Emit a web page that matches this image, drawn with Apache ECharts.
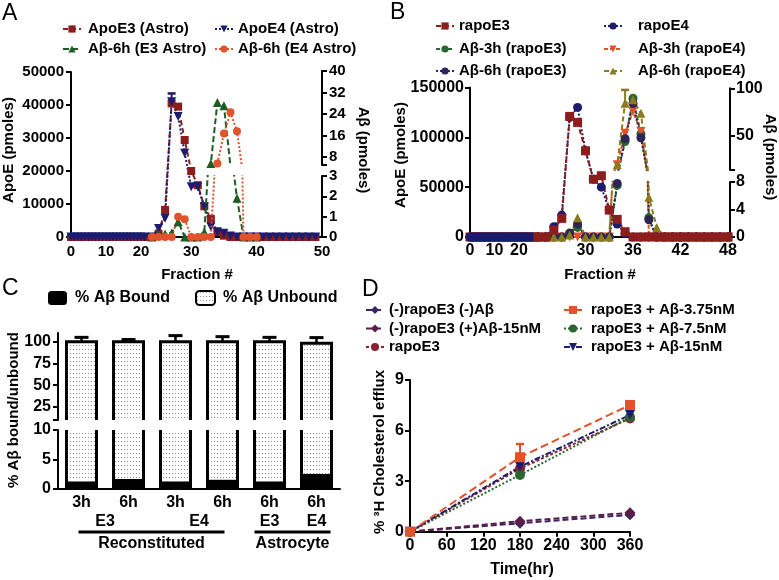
<!DOCTYPE html>
<html>
<head>
<meta charset="utf-8">
<script src="https://cdn.jsdelivr.net/npm/echarts@6.0.0/dist/echarts.min.js"></script>
<style>
html,body{margin:0;padding:0;background:#ffffff;}
#chart{width:779px;height:580px;}
</style>
</head>
<body>
<div id="chart"></div>
<script>
// ================= DATA =================
// ---- Panel A (astrocyte ApoE / Aβ, fraction #) ----
const fracA_left = [0,1,2,3,4,5,6,7,8,9,10,11,12,13,14,15,16,17,18,19,20,21];
const apoE3_astro_left = [0,0,0,0,0,0,0,0,0,0,0,0,0,0,0,0,0,0,0,0,0,0];
const apoE4_astro_left = [0,0,0,0,0,0,0,0,0,0,0,0,0,0,0,0,0,0,0,0,0,0];
const fracA = [24,25,26,27,28,29,30,31,32,33,34,35,36,37,38,39,40,41,42,43,44,45,46,47,48,49];
const apoE3_astro = [0,1000,8200,40500,39500,29400,20000,15700,9300,5500,1500,400,0,0,0,0,0,0,0,0,0,0,0,0,0,0];
const apoE4_astro = [0,2600,5700,41000,36500,25400,15200,15200,9200,3100,1600,1100,300,0,0,0,0,0,0,0,0,0,0,0,0,0];
const errA_frac = [27];
const errA_apoE4 = [2500];
const fracA_ab = [24,25,26,27,28,29,30,31,32,33,34,35,36,37,38,39,40];
const ab6h_E3astro = [0,0.15,0.15,0.2,0.75,0,0,0,0.25,5.6,28.3,27.1,4.5,1.9,0,0,0];
const ab6h_E4astro = [0,0,0,0,1.0,0.87,0,0,0,0,5.6,16.7,24.6,17.6,0,0,0];
const ticksA_xLeft = [0,10,20];
const ticksA_xRight = [30,40,50];
const ticksA_abUpper = [8,16,24,32,40];

// ---- Panel B (reconstituted apoE / Aβ) ----
const fracB_left = [0,1,2,3,4,5,6,7,8,9,10,11,12,13,14,15,16,17,18,19,20,21,22,23,24,25,26];
const rapoE3_left = [0,0,0,0,0,0,0,0,0,0,0,0,0,0,0,0,0,0,0,0,0,0,0,0,0,0,0];
const rapoE4_left = [0,0,0,0,0,0,0,0,0,0,0,0,0,0,0,0,0,0,0,0,0,0,0,0,0,0,0];
const fracB = [24,25,26,27,28,29,30,31,32,33,34,35,36,37,38,39,40,41,42,43,44,45,46,47,48];
const rapoE3 = [0,0,7000,18700,121000,115000,86500,58000,61500,27000,17700,5300,0,0,0,0,0,0,0,0,0,0,0,0,0];
const rapoE4 = [0,0,10300,22000,120000,130000,86500,58000,50000,27000,13000,3700,0,0,0,0,0,0,0,0,0,0,0,0,0];
const ab3h_rapoE3 = [0,0,0,0,0.6,1.4,0,0,0,0,7.5,44,89.5,52,2.8,0,0,0,0,0,0,0,0,0,0];
const ab3h_rapoE4 = [0,0,0,0,0,0,0,0,0,0,19.6,52.8,75.5,54.5,0,0,0,0,0,0,0,0,0,0,0];
const ab6h_rapoE3 = [0,0,0,0,0.5,1.9,0,0,0,0,7.8,47,84,48,2.5,0,0,0,0,0,0,0,0,0,0];
const ab6h_rapoE4 = [0,0,0,0,0.3,2.8,0,0,0,0,19.6,84.3,88,73.8,5.8,1.4,0,0,0,0,0,0,0,0,0];
const errB_frac = [35];
const errB_ab6hE4 = [14];
const ticksB_xLeft = [0,10,20];
const ticksB_xRight = [30,36,42,48];
const ticksB_abUpper = [50,100];

// ---- Panel C (% Aβ bound / unbound) ----
const categoriesC = ['3h','6h','3h','6h','6h','6h'];
const boundC = [1.3,1.7,1.3,1.6,1.3,2.6];
const unboundC = [98.7,98.3,98.7,98.4,98.7,95.6];
const errC = [5,2.5,7,5.8,5,6.5];
const apoLabelsC = ['E3','E4','E3','E4'];
const apoPosC = [0.5,2.5,4,5];
const groupLabelsC = ['Reconstituted','Astrocyte'];
const groupSpanC = [[0,3],[4,5]];
const ticksC_upper = [25,50,75,100];

// ---- Panel D (cholesterol efflux) ----
const timeD = [0,180,360];
const d_noApo_noAb = [0,0.5,1.0];
const d_noApo_Ab15 = [0,0.62,1.12];
const d_rapoE3 = [0,3.75,6.72];
const d_rapoE3_Ab375 = [0,4.42,7.52];
const d_rapoE3_Ab375_err = [0,0.78,0];
const d_rapoE3_Ab75 = [0,3.37,6.8];
const d_rapoE3_Ab15 = [0,3.86,6.93];

// ================= STYLE =================
const FONT = '"Liberation Sans", Arial, Helvetica, sans-serif';
const C = {maroon:'#8b1d1d', navy:'#1c1c6e', green:'#1f5d24', orange:'#e2532b', olive:'#8a7b1f',
  purple:'#2d2457', dgreen:'#2b6630', dpurple:'#3a2466', plum:'#5a1d4a', dred:'#8c1f2e'};
const TRI_DOWN = 'path://M0,0L10,0L5,9Z';
const AXL = {show:true, onZero:false, lineStyle:{color:'#000', width:2}};
const TICK = {show:true, inside:false, length:5, lineStyle:{color:'#000', width:2}};
function lbl(fs, margin, extra){ return Object.assign({show:true, fontFamily:FONT, fontWeight:'bold', fontSize:fs, color:'#000', margin:margin}, extra||{}); }

const pat = document.createElement('canvas');
pat.width = 3; pat.height = 4;
(function(){ const g = pat.getContext('2d'); g.fillStyle='#fff'; g.fillRect(0,0,3,4); g.fillStyle='#8f8f8f'; g.fillRect(1,1,1,1); })();
const DOTS = {image: pat, repeat: 'repeat'};

const grid = [
  {left:71, top:72, width:77, height:165},      // 0 A left segment
  {left:152, top:72, width:170, height:165},    // 1 A right segment (ApoE)
  {left:152, top:71, width:170, height:94},     // 2 A Aβ upper
  {left:152, top:176, width:170, height:61},    // 3 A Aβ lower
  {left:470, top:87.5, width:66, height:149.5}, // 4 B left segment
  {left:538, top:87.5, width:192, height:149.5},// 5 B right segment (ApoE)
  {left:538, top:88.3, width:192, height:81.7}, // 6 B Aβ upper
  {left:538, top:182, width:192, height:55},    // 7 B Aβ lower
  {left:58, top:333, width:282, height:87},     // 8 C upper
  {left:58, top:430, width:282, height:59},     // 9 C lower
  {left:410, top:380, width:220, height:151.7}  // 10 D
];

function hidX(gi, min, max){ return {gridIndex:gi, type:'value', min:min, max:max, show:false}; }
function hidY(gi, min, max){ return {gridIndex:gi, type:'value', min:min, max:max, show:false}; }
const noSplit = {show:false};

const xAxis = [
  {gridIndex:0, type:'value', min:0, max:22, axisLine:AXL, axisTick:{show:false}, splitLine:noSplit, axisLabel:lbl(15,7,{customValues:ticksA_xLeft})},
  {gridIndex:1, type:'value', min:24, max:50, axisLine:AXL, axisTick:{show:false}, splitLine:noSplit, axisLabel:lbl(15,7,{customValues:ticksA_xRight})},
  hidX(2,24,50), hidX(3,24,50),
  {gridIndex:4, type:'value', min:0, max:27, axisLine:AXL, axisTick:{show:false}, splitLine:noSplit, axisLabel:lbl(16,6,{customValues:ticksB_xLeft})},
  {gridIndex:5, type:'value', min:24, max:48.25, axisLine:AXL, axisTick:{show:false}, splitLine:noSplit, axisLabel:lbl(16,6,{customValues:ticksB_xRight})},
  hidX(6,24,48.25), hidX(7,24,48.25),
  {gridIndex:8, type:'category', data:categoriesC, show:false},
  {gridIndex:9, type:'category', data:categoriesC, axisLine:AXL, axisTick:{show:false}, axisLabel:lbl(16,6,{interval:0})},
  {gridIndex:10, type:'value', min:0, max:360, interval:60, axisLine:AXL, axisTick:TICK, splitLine:noSplit, axisLabel:lbl(16,6)}
];

const yAxis = [
  {gridIndex:0, type:'value', min:0, max:50000, interval:10000, axisLine:AXL, axisTick:TICK, splitLine:noSplit, axisLabel:lbl(15,7,{formatter:v=>String(v)})},
  hidY(1,0,50000),
  {gridIndex:2, type:'value', position:'right', min:5, max:40, axisLine:AXL, splitLine:noSplit,
    axisTick:Object.assign({}, TICK, {customValues:[5].concat(ticksA_abUpper)}), axisLabel:lbl(15,7,{customValues:ticksA_abUpper})},
  {gridIndex:3, type:'value', position:'right', min:0, max:3, interval:1, axisLine:AXL, axisTick:TICK, splitLine:noSplit, axisLabel:lbl(15,7)},
  {gridIndex:4, type:'value', min:0, max:150000, interval:50000, axisLine:AXL, axisTick:TICK, splitLine:noSplit, axisLabel:lbl(16,6,{formatter:v=>String(v)})},
  hidY(5,0,150000),
  {gridIndex:6, type:'value', position:'right', min:14, max:100, axisLine:AXL, splitLine:noSplit,
    axisTick:Object.assign({}, TICK, {customValues:[14].concat(ticksB_abUpper)}), axisLabel:lbl(16,6,{customValues:ticksB_abUpper})},
  {gridIndex:7, type:'value', position:'right', min:0, max:8, interval:4, axisLine:AXL, axisTick:TICK, splitLine:noSplit, axisLabel:lbl(16,6)},
  {gridIndex:8, type:'value', min:10, max:110, axisLine:AXL, splitLine:noSplit,
    axisTick:Object.assign({}, TICK, {customValues:[10].concat(ticksC_upper)}), axisLabel:lbl(16,7,{customValues:ticksC_upper})},
  {gridIndex:9, type:'value', min:0, max:10, interval:5, axisLine:AXL, axisTick:TICK, splitLine:noSplit, axisLabel:lbl(16,7)},
  {gridIndex:10, type:'value', min:0, max:9, interval:3, axisLine:AXL, axisTick:TICK, splitLine:noSplit, axisLabel:lbl(16,6)}
];

function line(name, gi, xs, ys, color, symbol, size, dash, z){
  return {type:'line', name:name, xAxisIndex:gi, yAxisIndex:gi, data:xs.map((x,i)=>[x, ys[i]]),
    symbol:symbol, symbolSize:size, showSymbol:true, showAllSymbol:true, clip:true,
    itemStyle:{color:color}, lineStyle:{color:color, width:2, type:dash}, z:z||2, animation:false};
}
function errBars(gi, xs, ys, es, color, capHalf, lw){
  return {type:'custom', xAxisIndex:gi, yAxisIndex:gi, data:xs.map((x,i)=>[x, ys[i], es[i]]), z:4, silent:true, animation:false,
    renderItem:function(params, api){
      const x = api.value(0), y = api.value(1), e = api.value(2);
      if (!e) return {type:'group', children:[]};
      const p0 = api.coord([x,y]), p1 = api.coord([x,y+e]);
      return {type:'group', children:[
        {type:'line', shape:{x1:p0[0],y1:p0[1],x2:p1[0],y2:p1[1]}, style:{stroke:color, lineWidth:lw}},
        {type:'line', shape:{x1:p1[0]-capHalf,y1:p1[1],x2:p1[0]+capHalf,y2:p1[1]}, style:{stroke:color, lineWidth:lw+0.5}}
      ]};
    }};
}

const series = [];
// Panel A
series.push(line('ApoE3 (Astro)', 0, fracA_left, apoE3_astro_left, C.maroon, 'rect', 8, [5,3]));
series.push(line('ApoE4 (Astro)', 0, fracA_left, apoE4_astro_left, C.navy, TRI_DOWN, 9, [2,2]));
series.push(line('ApoE3 (Astro)', 1, fracA, apoE3_astro, C.maroon, 'rect', 8, [5,3]));
series.push(line('ApoE4 (Astro)', 1, fracA, apoE4_astro, C.navy, TRI_DOWN, 9, [2,2]));
series.push(errBars(1, errA_frac, errA_frac.map(f=>apoE4_astro[fracA.indexOf(f)]), errA_apoE4, C.navy, 4, 2));
[2,3].forEach(gi=>{
  series.push(line('Aβ-6h (E3 Astro)', gi, fracA_ab, ab6h_E3astro, C.green, 'triangle', 9, [6,3], 3));
  series.push(line('Aβ-6h (E4 Astro)', gi, fracA_ab, ab6h_E4astro, C.orange, 'circle', 8, [2,2], 3));
});
// Panel B
series.push(line('rapoE3', 4, fracB_left, rapoE3_left, C.maroon, 'rect', 9, [5,3]));
series.push(line('rapoE4', 4, fracB_left, rapoE4_left, C.navy, 'circle', 9, [2,2]));
series.push(line('rapoE4', 5, fracB, rapoE4, C.navy, 'circle', 9, [2,2], 3));
series.push(line('rapoE3', 5, fracB, rapoE3, C.maroon, 'rect', 9, [5,3], 3));
[6,7].forEach(gi=>{
  series.push(line('Aβ-3h (rapoE3)', gi, fracB, ab3h_rapoE3, C.dgreen, 'circle', 9, [4,2], 2));
  series.push(line('Aβ-3h (rapoE4)', gi, fracB, ab3h_rapoE4, C.orange, TRI_DOWN, 9, [4,2], 2));
  series.push(line('Aβ-6h (rapoE3)', gi, fracB, ab6h_rapoE3, C.purple, 'circle', 9, [2,2], 2));
  series.push(line('Aβ-6h (rapoE4)', gi, fracB, ab6h_rapoE4, C.olive, 'triangle', 9, [5,3], 2));
});
series.push(errBars(6, errB_frac, errB_frac.map(f=>ab6h_rapoE4[fracB.indexOf(f)]), errB_ab6hE4, C.olive, 4, 2));

// Panel C
const BAR_W = 30;
[8,9].forEach(gi=>{
  series.push({type:'bar', name:'% Aβ Bound', xAxisIndex:gi, yAxisIndex:gi, stack:'s'+gi, data:boundC, barWidth:BAR_W,
    itemStyle:{color:'#000'}, clip:true, z:2, animation:false});
  series.push({type:'bar', name:'% Aβ Unbound', xAxisIndex:gi, yAxisIndex:gi, stack:'s'+gi, data:unboundC, barWidth:BAR_W,
    itemStyle:{color:DOTS}, clip:true, z:2, animation:false});
  series.push({type:'custom', xAxisIndex:gi, yAxisIndex:gi, z:3, silent:true, animation:false,
    data:categoriesC.map((c,i)=>[i, boundC[i]+unboundC[i], errC[i]]),
    renderItem:function(params, api){
      const cs = params.coordSys, top = cs.y, bot = cs.y + cs.height;
      const i = api.value(0), tot = api.value(1), e = api.value(2);
      const pT = api.coord([i, tot]), pB = api.coord([i, 0]);
      const x = pT[0], hw = BAR_W/2;
      const yT = Math.max(top, pT[1]), yB = Math.min(bot, pB[1]);
      const st = {stroke:'#000', lineWidth:3, fill:null};
      const ch = [];
      if (yT < yB) {
        if (pT[1] >= top) ch.push({type:'polyline', shape:{points:[[x-hw,yB],[x-hw,yT],[x+hw,yT],[x+hw,yB]]}, style:st});
        else {
          ch.push({type:'line', shape:{x1:x-hw,y1:yB,x2:x-hw,y2:yT}, style:st});
          ch.push({type:'line', shape:{x1:x+hw,y1:yB,x2:x+hw,y2:yT}, style:st});
        }
      }
      if (e && pT[1] >= top && pT[1] <= bot) {
        const pE = api.coord([i, tot+e]);
        ch.push({type:'line', shape:{x1:x,y1:pT[1],x2:x,y2:pE[1]}, style:{stroke:'#000', lineWidth:2.5}});
        ch.push({type:'line', shape:{x1:x-7,y1:pE[1],x2:x+7,y2:pE[1]}, style:{stroke:'#000', lineWidth:3}});
      }
      return {type:'group', children:ch};
    }});
});

// Panel D
const D_RAPOE3 = 'rapoE3 (D)';
series.push(line('(-)rapoE3 (-)Aβ', 10, timeD, d_noApo_noAb, C.dpurple, 'diamond', 11, [6,3]));
series.push(line('(-)rapoE3 (+)Aβ-15nM', 10, timeD, d_noApo_Ab15, C.plum, 'diamond', 11, [6,3]));
series.push(line(D_RAPOE3, 10, timeD, d_rapoE3, C.dred, 'circle', 10, [3,2]));
series.push(line('rapoE3 + Aβ-7.5nM', 10, timeD, d_rapoE3_Ab75, C.dgreen, 'circle', 10, [2,2]));
series.push(line('rapoE3 + Aβ-15nM', 10, timeD, d_rapoE3_Ab15, C.navy, TRI_DOWN, 10, [6,2,2,2]));
series.push(line('rapoE3 + Aβ-3.75nM', 10, timeD, d_rapoE3_Ab375, C.orange, 'rect', 10, [8,4]));
series.push(errBars(10, timeD, d_rapoE3_Ab375, d_rapoE3_Ab375_err, C.orange, 4, 2));

// ================= LEGENDS =================
function leg(name, left, cy, fs, iw, ih, pad, extra){
  const item = Object.assign({name:name}, extra||{});
  return {data:[item], left:left, top:cy - fs/2 - 1, orient:'horizontal', itemWidth:iw, itemHeight:ih, padding:0,
    selectedMode:false, formatter:n => n.replace(' (D)',''),
    textStyle:{fontFamily:FONT, fontWeight:'bold', fontSize:fs, color:'#000', padding:[0,0,0,pad||0]}};
}
const legend = [
  leg('ApoE3 (Astro)', 62, 30, 15, 18, 9, 2),
  leg('ApoE4 (Astro)', 214, 30, 15, 18, 9, 0),
  leg('Aβ-6h (E3 Astro)', 62, 50, 15, 18, 9, 2),
  leg('Aβ-6h (E4 Astro)', 214, 50, 15, 18, 9, 0),
  leg('rapoE3', 435, 27, 15, 18, 9, 0),
  leg('rapoE4', 603, 27, 15, 18, 9, 11),
  leg('Aβ-3h (rapoE3)', 435, 50, 15, 18, 9, 0),
  leg('Aβ-3h (rapoE4)', 603, 50, 15, 18, 9, 11),
  leg('Aβ-6h (rapoE3)', 435, 72, 15, 18, 9, 0),
  leg('Aβ-6h (rapoE4)', 603, 72, 15, 18, 9, 11),
  leg('% Aβ Bound', 48, 299, 16, 19, 14, 3),
  leg('% Aβ Unbound', 195, 299, 16, 19, 14, 3, {itemStyle:{borderColor:'#000', borderWidth:2}}),
  leg('(-)rapoE3 (-)Aβ', 365, 311, 15, 18, 10, 0),
  leg('(-)rapoE3 (+)Aβ-15nM', 365, 329.5, 15, 18, 10, 0),
  leg(D_RAPOE3, 365, 348, 15, 18, 10, 0),
  leg('rapoE3 + Aβ-3.75nM', 563, 311, 15, 18, 10, 4),
  leg('rapoE3 + Aβ-7.5nM', 563, 329.5, 15, 18, 10, 4),
  leg('rapoE3 + Aβ-15nM', 563, 348, 15, 18, 10, 4)
];

const chart = echarts.init(document.getElementById('chart'), null, {renderer:'canvas'});
chart.setOption({
  animation:false,
  backgroundColor:'#ffffff',
  textStyle:{fontFamily:FONT},
  grid:grid, xAxis:xAxis, yAxis:yAxis, legend:legend, series:series
});

// ================= TEXT / ANNOTATIONS =================
function txt(text, x, y, fs, opts){
  opts = opts || {};
  return {type:'text', x:x, y:y, rotation:opts.rot||0, z:10, silent:true,
    style:{text:text, fill:'#000', fontFamily:FONT, fontWeight:opts.weight||'bold', fontSize:fs,
      align:opts.align||'center', verticalAlign:'middle'}};
}
const R = Math.PI/2;
const graphics = [
  txt('A', 2, 14, 23, {align:'left', weight:'normal'}),
  txt('B', 390, 13, 23, {align:'left', weight:'normal'}),
  txt('C', 2, 289, 23, {align:'left', weight:'normal'}),
  txt('D', 362, 290, 23, {align:'left', weight:'normal'}),
  txt('Fraction #', 197, 275, 15),
  txt('Fraction #', 600, 275, 15),
  txt('Time(hr)', 522, 570, 16),
  txt('ApoE (pmoles)', 9, 150, 15, {rot:R}),
  txt('Aβ (pmoles)', 363, 150, 15, {rot:-R}),
  txt('ApoE (pmoles)', 401, 155, 15, {rot:R}),
  txt('Aβ (pmoles)', 770, 157, 15, {rot:-R}),
  txt('% Aβ bound/unbound', 14, 410, 15, {rot:R}),
  txt('% ³H Cholesterol efflux', 380, 452, 15, {rot:R})
];
const cx = i => chart.convertToPixel({xAxisIndex:9}, i);
const step = cx(1) - cx(0);
apoLabelsC.forEach((t, k)=>{ graphics.push(txt(t, cx(0) + apoPosC[k]*step, 522, 16)); });
const groupPad = [[3,2],[15,14]];
groupLabelsC.forEach((t, k)=>{
  const x1 = cx(groupSpanC[k][0]) - groupPad[k][0], x2 = cx(groupSpanC[k][1]) + groupPad[k][1];
  graphics.push({type:'line', z:10, silent:true, shape:{x1:x1, y1:532, x2:x2, y2:532}, style:{stroke:'#000', lineWidth:3}});
  graphics.push(txt(t, (x1+x2)/2, 544, 16));
});
chart.setOption({graphic:graphics});
</script>
</body>
</html>
